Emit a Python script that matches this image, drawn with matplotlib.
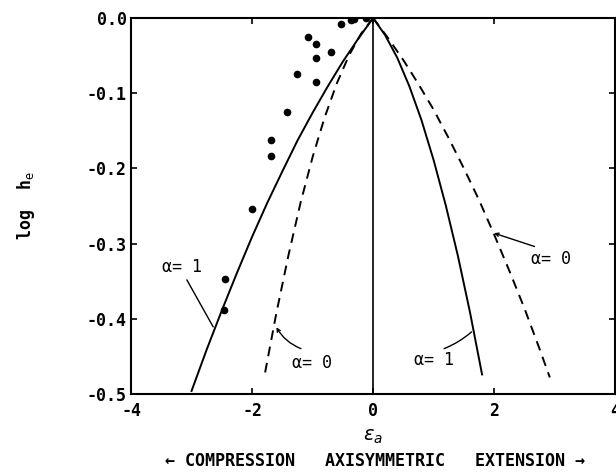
import matplotlib
matplotlib.use("Agg")
import matplotlib.pyplot as plt


# measured points (compression side)
comp_eps = [-0.12, -0.31, -0.37, -0.53, -0.70, -0.95, -0.95, -0.95,
            -1.08, -1.25, -1.43, -1.68, -1.68, -2.00, -2.44, -2.47]
comp_logh = [0.000, -0.001, -0.003, -0.008, -0.045, -0.035, -0.053, -0.085,
             -0.025, -0.075, -0.125, -0.162, -0.184, -0.254, -0.347, -0.388]

# alpha = 1 (solid), compression branch
a1_comp_eps = [0.0, -0.25, -0.5, -0.75, -1.0, -1.25, -1.5, -1.75, -2.0,
               -2.25, -2.5, -2.75, -3.0]
a1_comp_logh = [0.0, -0.028, -0.058, -0.091, -0.126, -0.163, -0.204, -0.246,
                -0.291, -0.339, -0.389, -0.441, -0.496]

# alpha = 1 (solid), extension branch
a1_ext_eps = [0.0, 0.2, 0.4, 0.6, 0.8, 1.0, 1.2, 1.4, 1.6, 1.8]
a1_ext_logh = [0.0, -0.023, -0.053, -0.091, -0.136, -0.189, -0.249, -0.316,
               -0.391, -0.474]

# alpha = 0 (dashed), compression branch
a0_comp_eps = [0.0, -0.2, -0.4, -0.6, -0.8, -1.0, -1.2, -1.4, -1.6, -1.8]
a0_comp_logh = [0.0, -0.021, -0.050, -0.087, -0.132, -0.185, -0.246, -0.316,
                -0.393, -0.478]

# alpha = 0 (dashed), extension branch
a0_ext_eps = [0.0, 0.25, 0.5, 0.75, 1.0, 1.25, 1.5, 1.75, 2.0, 2.25, 2.5,
              2.75, 2.92]
a0_ext_logh = [0.0, -0.027, -0.056, -0.088, -0.122, -0.160, -0.200, -0.242,
               -0.288, -0.336, -0.386, -0.440, -0.478]

x_ticks = [-4, -2, 0, 2, 4]
y_ticks = [0.0, -0.1, -0.2, -0.3, -0.4, -0.5]

MONO = 'DejaVu Sans Mono'


def main() -> None:
    plt.rcParams['font.family'] = [MONO, 'DejaVu Sans']
    plt.rcParams['axes.unicode_minus'] = False

    fig = plt.figure(figsize=(6.16, 4.74), dpi=100)
    ax = fig.add_axes([0.2127, 0.1688, 0.786, 0.7932])

    lw = 1.4
    ax.plot(a1_comp_eps, a1_comp_logh, color='black', lw=lw)
    ax.plot(a1_ext_eps, a1_ext_logh, color='black', lw=lw)
    ax.plot(a0_comp_eps, a0_comp_logh, color='black', lw=lw, ls=(0, (5, 3.5)))
    ax.plot(a0_ext_eps, a0_ext_logh, color='black', lw=lw, ls=(0, (5, 3.5)))
    ax.plot([0, 0], [0, -0.5], color='black', lw=1.2)
    ax.plot(comp_eps, comp_logh, 'o', color='black', ms=4.5)

    #-------------
    # curve labels
    #-------------
    lab = dict(fontsize=12, ha='center', va='center')
    ax.text(-3.16, -0.331, 'α= 1', **lab)
    ax.annotate('', xy=(-2.62, -0.414), xytext=(-3.10, -0.345),
                arrowprops=dict(arrowstyle='-', lw=1.0, color='black'))

    ax.text(-1.01, -0.459, 'α= 0', **lab)
    ax.annotate('', xy=(-1.62, -0.408), xytext=(-1.15, -0.441),
                arrowprops=dict(arrowstyle='->', lw=1.0, color='black',
                                mutation_scale=6,
                                connectionstyle='arc3,rad=-0.2'))

    ax.text(1.00, -0.455, 'α= 1', **lab)
    ax.annotate('', xy=(1.66, -0.415), xytext=(1.13, -0.441),
                arrowprops=dict(arrowstyle='-', lw=1.0, color='black',
                                connectionstyle='arc3,rad=0.1'))

    ax.text(2.94, -0.321, 'α= 0', **lab)
    ax.annotate('', xy=(1.955, -0.285), xytext=(2.71, -0.305),
                arrowprops=dict(arrowstyle='->', lw=1.0, color='black',
                                mutation_scale=6))

    #-------------
    # axes
    #-------------
    ax.set_xlim(-4, 4)
    ax.set_ylim(-0.5, 0.0)
    ax.set_xticks(x_ticks)
    ax.set_yticks(y_ticks)
    ax.set_yticklabels([f'{v:.1f}' for v in y_ticks])
    ax.tick_params(direction='in', top=True, right=True, length=4, width=1.2,
                   labelsize=12)
    ax.tick_params(axis='y', pad=3)
    ax.tick_params(axis='x', pad=6)
    for lbl in ax.get_xticklabels() + ax.get_yticklabels():
        lbl.set_fontweight('bold')
    for sp in ax.spines.values():
        sp.set_linewidth(1.5)

    ax.set_ylabel(r'log  h$_{\mathrm{e}}$', fontsize=12, fontweight='bold',
                  labelpad=36)
    ax.set_xlabel(r'$\epsilon_a$', fontsize=14, labelpad=5)

    fig.text(0.609, 0.028,
             '\u2190 COMPRESSION   AXISYMMETRIC   EXTENSION \u2192',
             ha='center', va='center', fontsize=12, fontweight='bold')

    plt.savefig('out.png', dpi=100)


if __name__ == "__main__":
    main()
